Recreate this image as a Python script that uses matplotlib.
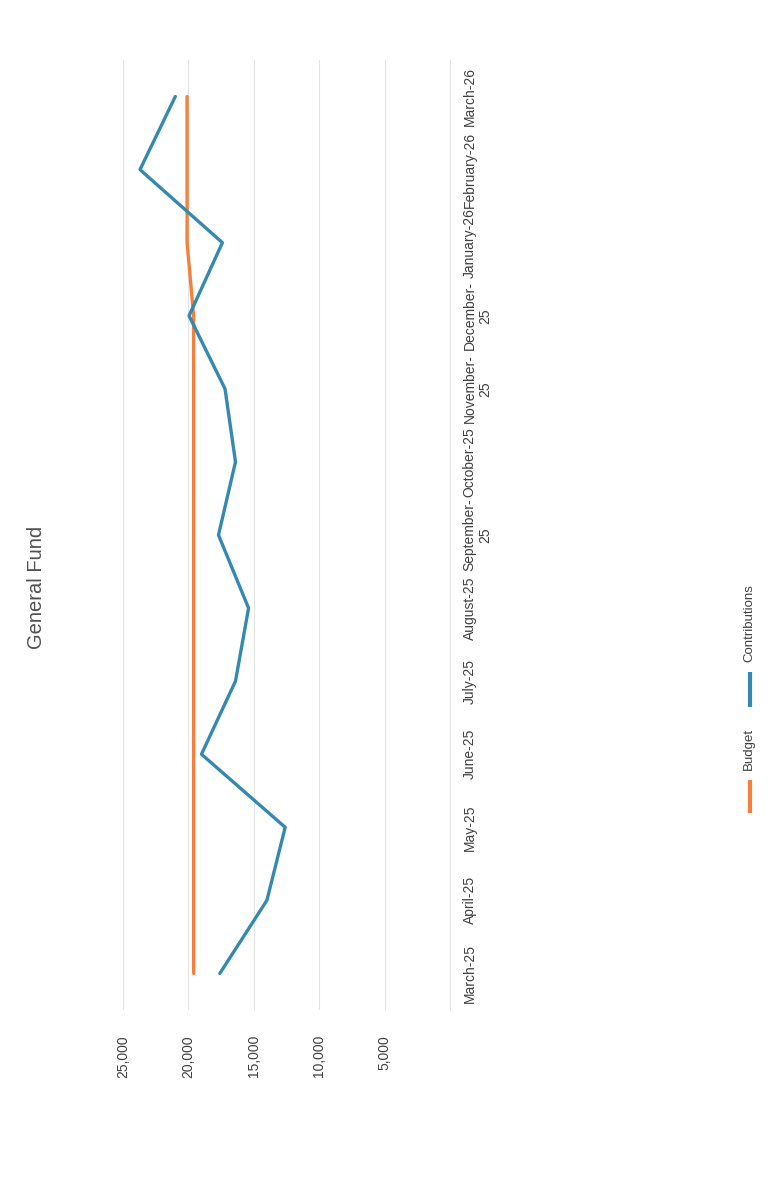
import matplotlib
matplotlib.use("Agg")
import matplotlib.pyplot as plt
from matplotlib.lines import Line2D
from matplotlib.ticker import FixedLocator

plt.rcParams['font.family'] = ['Liberation Sans', 'DejaVu Sans']

# ---- data ----
categories = ["March-25", "April-25", "May-25", "June-25", "July-25", "August-25",
              "September-\n25", "October-25", "November-\n25", "December-\n25",
              "January-26", "February-26", "March-26"]
contributions = [17600, 14000, 12600, 19000, 16400, 15400, 17700,
                 16400, 17200, 19950, 17400, 23700, 21000]
budget = [19600, 19600, 19600, 19600, 19600, 19600, 19600,
          19600, 19600, 19600, 20100, 20100, 20100]
value_ticks = [0, 5000, 10000, 15000, 20000, 25000]
value_tick_labels = ["", "5,000", "10,000", "15,000", "20,000", "25,000"]

blue = '#3589b0'
orange = '#f5803e'
text_col = '#404040'
W, H = 776, 1183

fig = plt.figure(figsize=(W / 100, H / 100), dpi=100)
fig.patch.set_facecolor('white')

# rotated chart: value axis horizontal (inverted), categories vertical
ax = fig.add_axes([123 / W, 1 - 1010 / H, (450 - 123) / W, (1010 - 60) / H])
pos = list(range(len(categories)))
ax.plot(budget, pos, color=orange, lw=2.4, solid_capstyle='round', zorder=3)
ax.plot(contributions, pos, color=blue, lw=2.4, solid_capstyle='round', zorder=4)

ax.set_xlim(25000, 0)
ax.set_ylim(-0.5, len(categories) - 0.5)

ax.xaxis.set_major_locator(FixedLocator(value_ticks))
ax.set_xticklabels(value_tick_labels, rotation=90, fontsize=10, color=text_col)
ax.tick_params(axis='x', length=0, pad=18)

ax.yaxis.tick_right()
ax.set_yticks(pos)
ax.set_yticklabels(categories, rotation=90, fontsize=10, color=text_col,
                   va='center', ha='left', multialignment='center')
ax.tick_params(axis='y', length=0, pad=9)

ax.grid(axis='x', color='#e4e4e4', lw=0.8)
ax.axvline(0, color='#e4e4e4', lw=0.8, clip_on=False, zorder=0)
ax.set_axisbelow(True)
for s in ax.spines.values():
    s.set_visible(False)

# title
fig.text(36 / W, 1 - 587 / H, "General Fund", rotation=90, fontsize=14.5,
         ha='center', va='center', color='#505050')

# legend (rotated, manual)
def legend_item(y0, y1, color, label, ty):
    fig.add_artist(Line2D([750 / W, 750 / W], [1 - y0 / H, 1 - y1 / H],
                          color=color, lw=3, solid_capstyle='butt'))
    fig.text(749 / W, 1 - ty / H, label, rotation=90, fontsize=9.5,
             ha='center', va='bottom', color=text_col)

legend_item(780, 813, orange, "Budget", 770)
legend_item(672, 707, blue, "Contributions", 662)

fig.savefig("out.png", dpi=100, facecolor='white')
